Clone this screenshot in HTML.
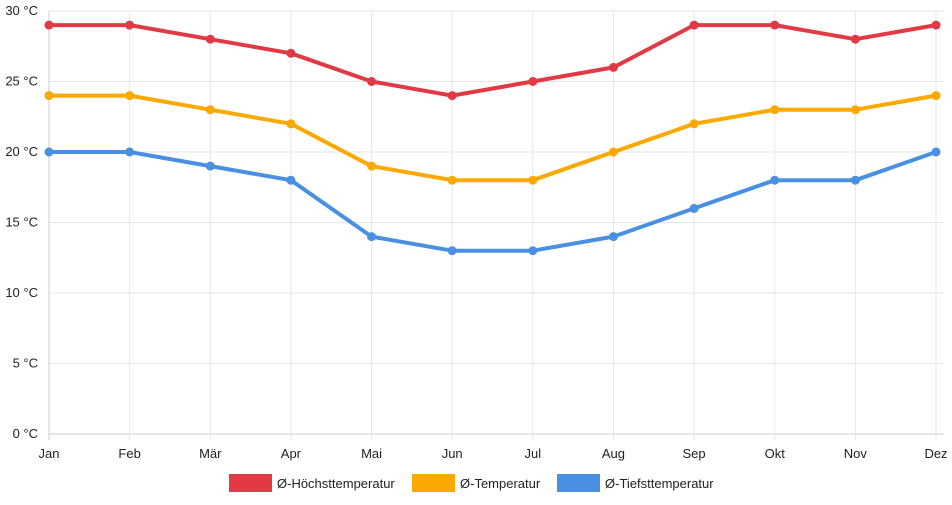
<!DOCTYPE html>
<html><head><meta charset="utf-8"><style>
body{margin:0;background:#fff;font-family:"Liberation Sans",sans-serif}
svg text{font-family:"Liberation Sans",sans-serif;font-size:13px;fill:#222}
</style></head><body>
<svg id="c" width="952" height="500"></svg>
<script>
const categories=["Jan","Feb","Mär","Apr","Mai","Jun","Jul","Aug","Sep","Okt","Nov","Dez"];
const maxTemp=[29,29,28,27,25,24,25,26,29,29,28,29];
const avgTemp=[24,24,23,22,19,18,18,20,22,23,23,24];
const minTemp=[20,20,19,18,14,13,13,14,16,18,18,20];
const yTicks=[0,5,10,15,20,25,30];
const seriesNames=["Ø-Höchsttemperatur","Ø-Temperatur","Ø-Tiefsttemperatur"];
const colors=["#e23a45","#fba800","#4a90e2"];
const svg=document.getElementById('c');const NS="http://www.w3.org/2000/svg";
const x0=49,x1=936,y0=434,y1=11;
const xs=i=>x0+i*(x1-x0)/(categories.length-1);
const ys=v=>y0-(v/30)*(y0-y1);
function mk(t,a,p){const e=document.createElementNS(NS,t);for(const k in a)e.setAttribute(k,a[k]);(p||svg).appendChild(e);return e;}
yTicks.forEach(v=>{const l=mk('line',{x1:x0,x2:x1+8,y1:ys(v),y2:ys(v),stroke:v===0?'#ccc':'#e6e6e6'});


const t=mk('text',{x:38,y:ys(v)+4,'text-anchor':'end'});t.textContent=v+' °C';

});
categories.forEach((c,i)=>{const l=mk('line',{x1:xs(i),x2:xs(i),y1:y1,y2:y0+6,stroke:i===0?'#ccc':'#e6e6e6'});


const t=mk('text',{x:xs(i),y:458,'text-anchor':'middle'});t.textContent=c;

});
[maxTemp,avgTemp,minTemp].forEach((d,s)=>{const g=mk('g',{});


const p=mk('polyline',{points:d.map((v,i)=>xs(i)+','+ys(v)).join(' '),fill:'none',stroke:colors[s],'stroke-width':4,'stroke-linejoin':'round'},g);


d.forEach((v,i)=>{const c=mk('circle',{cx:xs(i),cy:ys(v),r:4.5,fill:colors[s]},g);

});});
const lx=[229,412,557];
seriesNames.forEach((n,s)=>{const g=mk('g',{});


mk('rect',{x:lx[s],y:474,width:43,height:18,fill:colors[s]},g);
const t=mk('text',{x:lx[s]+48,y:488},g);t.textContent=n;});
</script>
</body></html>
